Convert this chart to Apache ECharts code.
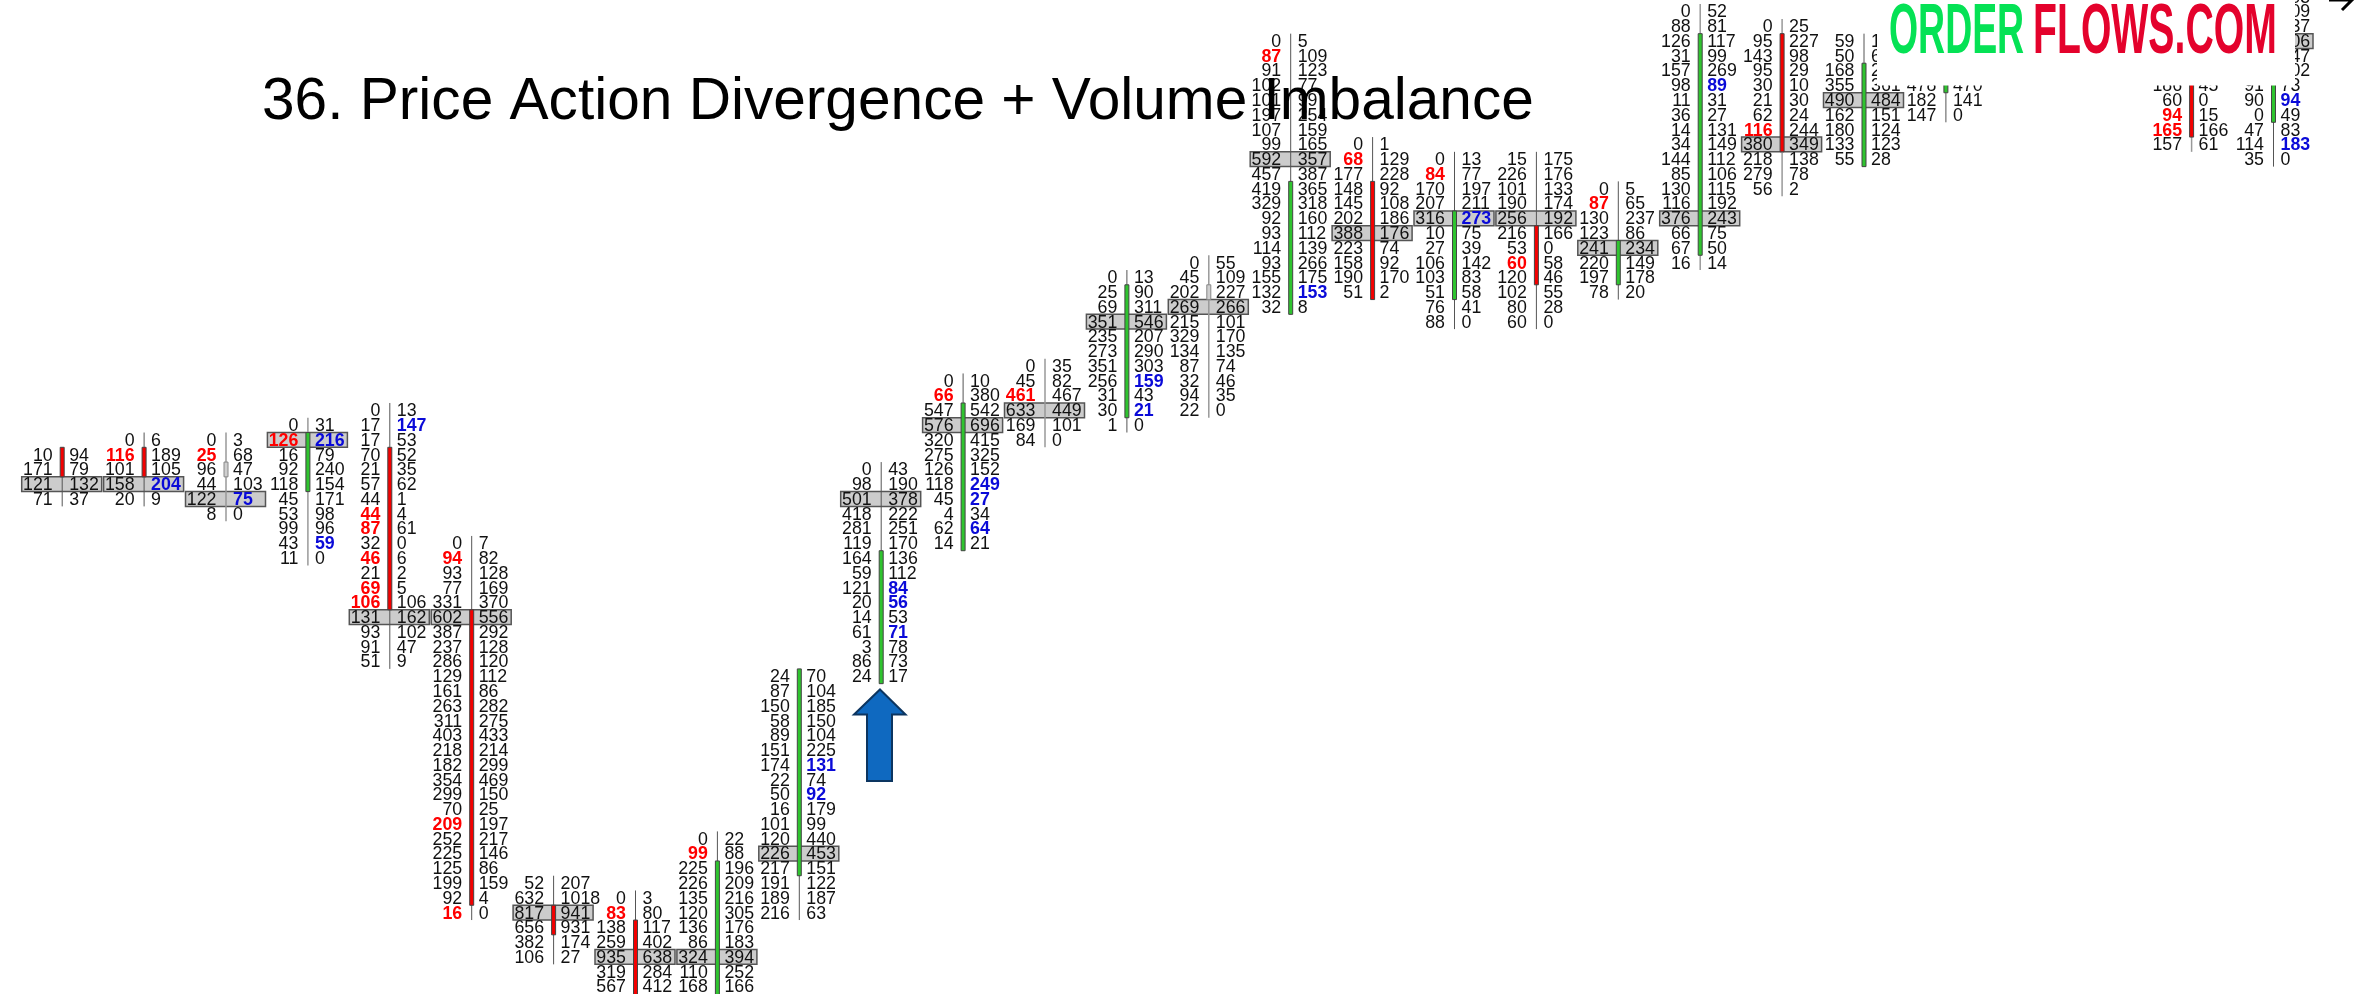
<!DOCTYPE html>
<html>
<head>
<meta charset="utf-8">
<style>html,body{margin:0;padding:0;background:#fff}#chart{width:2357px;height:994px}</style>
<script src="https://cdn.jsdelivr.net/npm/echarts@6/dist/echarts.min.js"></script>
</head>
<body>
<div id="chart"></div>
<script>
// Footprint chart: rows are price levels counted from the top of the picture.
const titleText = '36. Price Action Divergence + Volume Imbalance';
const topLevels = [30,29,29,28,27,36,59,60,56,45,31,25,24,18,17,2,9,10,10,12,0,1,2,5,5,5,5,-1];
const bids = [
  [10,171,121,71],
  [0,116,101,158,20],
  [0,25,96,44,122,8],
  [0,126,16,92,118,45,53,99,43,11],
  [0,17,17,70,21,57,44,44,87,32,46,21,69,106,131,93,91,51],
  [0,94,93,77,331,602,387,237,286,129,161,263,311,403,218,182,354,299,70,209,252,225,125,199,92,16],
  [52,632,817,656,382,106],
  [0,83,138,259,935,319,567],
  [0,99,225,226,135,120,136,86,324,110,168],
  [24,87,150,58,89,151,174,22,50,16,101,120,226,217,191,189,216],
  [0,98,501,418,281,119,164,59,121,20,14,61,3,86,24],
  [0,66,547,576,320,275,126,118,45,4,62,14],
  [0,45,461,633,169,84],
  [0,25,69,351,235,273,351,256,31,30,1],
  [0,45,202,269,215,329,134,87,32,94,22],
  [0,87,91,102,101,197,107,99,592,457,419,329,92,93,114,93,155,132,32],
  [0,68,177,148,145,202,388,223,158,190,51],
  [0,84,170,207,316,10,27,106,103,51,76,88],
  [15,226,101,190,256,216,53,60,120,102,80,60],
  [0,87,130,123,241,220,197,78],
  [0,88,126,31,157,98,11,36,14,34,144,85,130,116,376,66,67,16],
  [0,95,143,95,30,21,62,116,380,218,279,56],
  [59,50,168,355,490,162,180,133,55],
  [478,182,147],
  [],
  [],
  [186,60,94,165,157],
  [null,null,null,null,null,null,91,90,0,47,114,35]
];
const asks = [
  [94,79,132,37],
  [6,189,105,204,9],
  [3,68,47,103,75,0],
  [31,216,79,240,154,171,98,96,59,0],
  [13,147,53,52,35,62,1,4,61,0,6,2,5,106,162,102,47,9],
  [7,82,128,169,370,556,292,128,120,112,86,282,275,433,214,299,469,150,25,197,217,146,86,159,4,0],
  [207,1018,941,931,174,27],
  [3,80,117,402,638,284,412],
  [22,88,196,209,216,305,176,183,394,252,166],
  [70,104,185,150,104,225,131,74,92,179,99,440,453,151,122,187,63],
  [43,190,378,222,251,170,136,112,84,56,53,71,78,73,17],
  [10,380,542,696,415,325,152,249,27,34,64,21],
  [35,82,467,449,101,0],
  [13,90,311,546,207,290,303,159,43,21,0],
  [55,109,227,266,101,170,135,74,46,35,0],
  [5,109,123,77,99,254,159,165,357,387,365,318,160,112,139,266,175,153,8],
  [1,129,228,92,108,186,176,74,92,170,2],
  [13,77,197,211,273,75,39,142,83,58,41,0],
  [175,176,133,174,192,166,0,58,46,55,28,0],
  [5,65,237,86,234,149,178,20],
  [52,81,117,99,269,89,31,27,131,149,112,106,115,192,243,75,50,14],
  [25,227,98,29,10,30,24,244,349,138,78,2],
  [120,64,215,361,484,151,124,123,28],
  [470,141,0],
  [],
  [],
  [45,0,15,166,61],
  [105,109,137,206,147,102,73,94,49,83,183,0]
];
// Levels holding the highest-volume row of each candle
const pocLevels = [32,32,33,29,41,41,61,64,64,57,33,28,27,21,20,10,15,14,14,16,14,9,6,null,null,null,null,2];
// Candle bodies: first level, last level, direction
const bodyTop    = [30,30,31,29,30,41,61,62,58,45,37,27,null,19,19,12,12,14,15,16,2,2,4,3,null,null,3,0];
const bodyBottom = [31,31,31,32,40,60,62,67,67,58,45,36,null,27,19,20,19,19,18,18,16,9,10,5,null,null,8,7];
const bodyDir    = ['d','d','f','u','d','d','d','d','u','u','u','u',null,'u','f','u','d','u','d','u','u','d','u','u',null,null,'d','u'];
// Imbalance levels
const redBidLevels = [[],[30],[30],[29],[34,35,37,39,40],[37,55,61],[],[61],[57],[],[],[26],[26],[],[],[3],[10],[11],[17],[13],[],[8],[],[],[],[],[7,8],[]];
const blueAskLevels = [[],[32],[33],[29,36],[28],[],[],[],[],[51,53],[39,40,42],[32,33,35],[],[25,27],[],[19],[],[14],[],[],[5],[],[],[],[],[],[],[6,9]];
const softWickCandles = [2,3,12,14,20,21,26];

const COLUMN_PITCH = 81.9, COLUMN_ORIGIN = 61.7;
const ROW_PITCH = 14.773, ROW_ORIGIN = 11.5;
const W = 2357, H = 994;
const FONT = '"Liberation Sans", Arial, sans-serif';

const cellRows = [], pocRows = [], wickRows = [], bodyRows = [];
bids.forEach((col, c) => {
  const ask = asks[c];
  const n = ask.length;
  if (n) wickRows.push([c, topLevels[c], topLevels[c] + n - 1]);
  for (let r = 0; r < n; r++) {
    const lv = topLevels[c] + r;
    cellRows.push([c, lv, col[r], ask[r], redBidLevels[c].includes(lv) ? 1 : 0, blueAskLevels[c].includes(lv) ? 1 : 0]);
  }
  if (pocLevels[c] !== null) pocRows.push([c, pocLevels[c]]);
  if (bodyDir[c]) bodyRows.push([c, bodyTop[c], bodyBottom[c], bodyDir[c]]);
});

function rectBetween(api, c, a, b, halfW) {
  const p0 = api.coord([c, a - 0.5]);
  const p1 = api.coord([c, b + 0.5]);
  return { x: p0[0] - halfW, y: p0[1], width: halfW * 2, height: p1[1] - p0[1] };
}

const chart = echarts.init(document.getElementById('chart'), null, { renderer: 'canvas' });
chart.setOption({
  animation: false,
  backgroundColor: '#ffffff',
  grid: { left: 0, right: 0, top: 0, bottom: 0, containLabel: false },
  xAxis: { type: 'value', show: false, min: -COLUMN_ORIGIN / COLUMN_PITCH, max: (W - COLUMN_ORIGIN) / COLUMN_PITCH },
  yAxis: { type: 'value', show: false, inverse: true, min: -ROW_ORIGIN / ROW_PITCH, max: (H - ROW_ORIGIN) / ROW_PITCH },
  series: [
    {
      name: 'POC', type: 'custom', coordinateSystem: 'cartesian2d', silent: true, z: 2, clip: true,
      data: pocRows, encode: { x: 0, y: 1 },
      renderItem(params, api) {
        const r = rectBetween(api, api.value(0), api.value(1), api.value(1), 40);
        return { type: 'rect', shape: r, style: { fill: '#cccccc', stroke: '#555555', lineWidth: 1.5 } };
      }
    },
    {
      name: 'Wick', type: 'custom', coordinateSystem: 'cartesian2d', silent: true, z: 3, clip: true,
      data: wickRows, encode: { x: 0, y: [1, 2] },
      renderItem(params, api) {
        const c = api.value(0);
        const r = rectBetween(api, c, api.value(1), api.value(2), 0);
        const soft = softWickCandles.includes(c);
        return { type: 'line', shape: { x1: r.x + 0.5, y1: r.y, x2: r.x + 0.5, y2: r.y + r.height },
          style: { stroke: soft ? '#999999' : '#555555', lineWidth: soft ? 1.5 : 1 } };
      }
    },
    {
      name: 'Body', type: 'custom', coordinateSystem: 'cartesian2d', silent: true, z: 4, clip: true,
      data: bodyRows, encode: { x: 0, y: [1, 2] }, dimensions: ['c', 't', 'b', { name: 'd', type: 'ordinal' }],
      renderItem(params, api) {
        const d = bodyRows[params.dataIndex][3];
        const r = rectBetween(api, api.value(0), api.value(1), api.value(2), 2);
        const fill = d === 'u' ? '#2fc42f' : d === 'd' ? '#f40000' : '#cfcfcf';
        return { type: 'rect', shape: { x: r.x + 0.5, y: r.y, width: r.width, height: r.height },
          style: { fill, stroke: d === 'f' ? '#888888' : '#444444', lineWidth: 1 } };
      }
    },
    {
      name: 'Footprint', type: 'custom', coordinateSystem: 'cartesian2d', silent: true, z: 5, clip: true,
      data: cellRows.map(r => r.map(v => v === null ? -1 : v)), encode: { x: 0, y: 1 },
      renderItem(params, api) {
        const p = api.coord([api.value(0), api.value(1)]);
        const bid = api.value(2), ask = api.value(3), hb = api.value(4), ha = api.value(5);
        const children = [];
        if (bid >= 0) children.push({ type: 'text', x: p[0] - 9, y: p[1] + 1,
          style: { text: String(bid), align: 'right', verticalAlign: 'middle', fontFamily: FONT, fontSize: 17.8,
                   fontWeight: hb ? 'bold' : 'normal', fill: hb ? '#ff0000' : '#111111' } });
        if (ask >= 0) children.push({ type: 'text', x: p[0] + 7.5, y: p[1] + 1,
          style: { text: String(ask), align: 'left', verticalAlign: 'middle', fontFamily: FONT, fontSize: 17.8,
                   fontWeight: ha ? 'bold' : 'normal', fill: ha ? '#0a0ad8' : '#111111' } });
        return { type: 'group', children };
      }
    }
  ],
  graphic: { elements: [
    { type: 'rect', z: 100, shape: { x: 1877, y: 0, width: 418, height: 85.5 }, style: { fill: '#ffffff' } },
    { type: 'text', z: 101, x: 1889, y: 33, scaleX: 0.527, originX: 0, originY: 0,
      style: { text: 'ORDER', fontFamily: FONT, fontWeight: 'bold', fontSize: 71, fill: '#05e255', align: 'left', verticalAlign: 'middle' } },
    { type: 'text', z: 101, x: 2033, y: 33, scaleX: 0.552, originX: 0, originY: 0,
      style: { text: 'FLOWS.COM', fontFamily: FONT, fontWeight: 'bold', fontSize: 71, fill: '#e4022c', align: 'left', verticalAlign: 'middle' } },
    { type: 'text', z: 102, x: 262, y: 103,
      style: { text: titleText, fontFamily: FONT, fontSize: 58.6, fill: '#000000', align: 'left', verticalAlign: 'middle' } },
    { type: 'polygon', z: 103,
      shape: { points: [[880,689.5],[905.5,714.5],[892,714.5],[892,781],[867,781],[867,714.5],[854,714.5]] },
      style: { fill: '#0f69c0', stroke: '#0c3560', lineWidth: 2 } },
    { type: 'polyline', z: 103, shape: { points: [[2329,0],[2352,0],[2342,10]] },
      style: { fill: 'none', stroke: '#000000', lineWidth: 3 } }
  ] }
});
</script>
</body>
</html>
